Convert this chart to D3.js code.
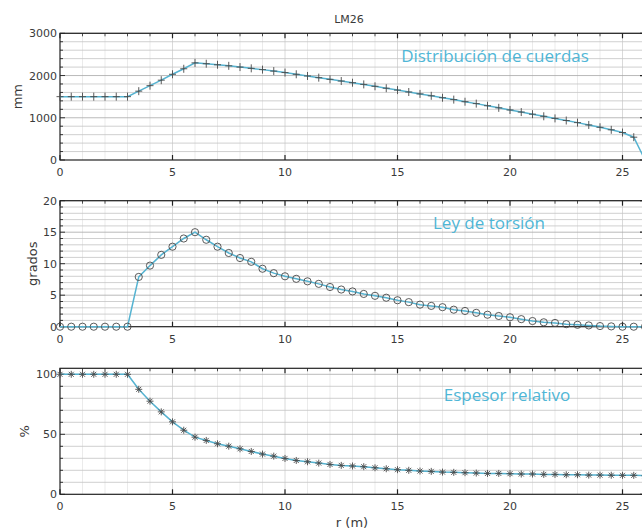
<!DOCTYPE html>
<html>
<head>
<meta charset="utf-8">
<script src="https://cdn.jsdelivr.net/npm/d3@7"></script>
<style>
  html, body { margin: 0; padding: 0; background: #fff; overflow: hidden; }
  svg { display: block; }
</style>
</head>
<body>
<svg id="chart" width="642" height="529"></svg>
<script>
// ---- data ----
const title = "LM26";
const xLabel = "r (m)";
const radius = d3.range(0, 26.01, 0.5); // 0, 0.5, ..., 26
const chord = [1500,1500,1500,1500,1500,1500,1500,
  1630,1760,1890,2030,2160,2300,
  2280,2255,2230,2200,2170,2140,2105,2070,
  2030,1990,1950,1910,1870,1830,1790,1745,1700,1655,
  1610,1565,1520,1475,1430,1380,1335,1285,1235,1185,
  1135,1085,1035,985,935,885,830,775,715,650,540,0];
const twist = [0,0,0,0,0,0,0,
  7.9,9.7,11.4,12.7,14.0,15.0,
  13.8,12.7,11.7,10.9,10.3,9.2,8.5,8.0,
  7.6,7.2,6.8,6.3,5.9,5.6,5.2,4.9,4.6,4.2,
  3.9,3.5,3.3,3.1,2.7,2.5,2.2,1.9,1.7,1.5,
  1.2,0.9,0.7,0.6,0.4,0.3,0.2,0.1,0.05,0,0,0];
const thickness = [100,100,100,100,100,100,100,
  87.5,77.6,68.7,60.4,53.4,47.6,
  44.9,42.1,40.1,37.9,35.7,33.5,31.8,29.9,
  28.2,27.1,26.0,24.9,24.1,23.6,23.0,22.1,21.3,20.5,
  20.0,19.4,19.1,18.5,18.3,18.0,17.7,17.4,17.4,17.2,
  16.9,16.9,16.6,16.6,16.3,16.3,16.0,16.0,15.9,15.8,15.8,15.5];
const xTicks = [0,5,10,15,20,25];
const chordTicks = [0,1000,2000,3000];
const twistTicks = [0,5,10,15,20];
const thickTicks = [0,50,100];
const panelNames = ["Distribución de cuerdas", "Ley de torsión", "Espesor relativo"];
const yLabels = ["mm", "grados", "%"];

// ---- layout ----
const svg = d3.select("#chart");
const x = d3.scaleLinear().domain([0, 26]).range([60, 645]);

const panels = [
  {values: chord, ticks: chordTicks, domain: [0, 3000], top: 33.3, bottom: 160, minor: 200, marker: "plus",
   name: panelNames[0], nameX: 495, nameY: 62, ylab: yLabels[0], ylabX: 17, tickBottomY: 176},
  {values: twist, ticks: twistTicks, domain: [0, 20], top: 200.7, bottom: 326.7, minor: 1, marker: "circle",
   name: panelNames[1], nameX: 489, nameY: 229, ylab: yLabels[1], ylabX: 32, tickBottomY: 343},
  {values: thickness, ticks: thickTicks, domain: [0, 105], top: 368.3, bottom: 494.3, minor: 10, marker: "star",
   name: panelNames[2], nameX: 507, nameY: 401, ylab: yLabels[2], ylabX: 24, tickBottomY: 510}
];

const lineColor = "#55b3d1";
const markColor = "#4a4a4a";

panels.forEach((p, pi) => {
  const y = d3.scaleLinear().domain(p.domain).range([p.bottom, p.top]);
  const g = svg.append("g");
  const x0 = x.range()[0], x1 = x.range()[1];

  // grid: vertical minor every 1 unit
  g.append("g").selectAll("line").data(d3.range(1, 26)).join("line")
    .attr("x1", d => x(d)).attr("x2", d => x(d))
    .attr("y1", p.top).attr("y2", p.bottom)
    .attr("stroke", d => d % 5 === 0 ? "#d0d0d0" : "#e6e6e6")
    .attr("stroke-width", 0.8);
  // horizontal minor grid
  const hvals = d3.range(p.domain[0] + p.minor, p.domain[1] + 1e-9, p.minor);
  g.append("g").selectAll("line").data(hvals).join("line")
    .attr("x1", x0).attr("x2", x1)
    .attr("y1", d => y(d)).attr("y2", d => y(d))
    .attr("stroke", (d) => p.ticks.includes(d) ? "#a8a8a8" : "#c4c4c4")
    .attr("stroke-width", 0.8);

  // axes box
  g.append("rect").attr("x", x0).attr("y", p.top)
    .attr("width", x1 - x0).attr("height", p.bottom - p.top)
    .attr("fill", "none").attr("stroke", "#222").attr("stroke-width", 1.2);

  // x ticks (bottom major inward, top major + minor inward)
  g.append("g").selectAll("line").data(xTicks).join("line")
    .attr("x1", d => x(d)).attr("x2", d => x(d))
    .attr("y1", p.bottom).attr("y2", p.bottom - 5)
    .attr("stroke", "#222").attr("stroke-width", 1.2);
  g.append("g").selectAll("line").data(d3.range(0, 27)).join("line")
    .attr("x1", d => x(d)).attr("x2", d => x(d))
    .attr("y1", p.top).attr("y2", d => p.top + (d % 5 === 0 ? 5 : 3))
    .attr("stroke", "#222").attr("stroke-width", d => d % 5 === 0 ? 1.2 : 0.8);
  // y ticks on left (major + minor) and right
  g.append("g").selectAll("line").data(d3.range(p.domain[0], p.domain[1] + 1e-9, p.minor)).join("line")
    .attr("x1", x0).attr("x2", d => x0 + (p.ticks.includes(d) ? 5 : 3))
    .attr("y1", d => y(d)).attr("y2", d => y(d))
    .attr("stroke", "#222").attr("stroke-width", 0.9);
  g.append("g").selectAll("line").data(p.ticks).join("line")
    .attr("x1", x1).attr("x2", x1 - 5)
    .attr("y1", d => y(d)).attr("y2", d => y(d))
    .attr("stroke", "#222").attr("stroke-width", 1.2);

  // tick labels
  g.append("g").selectAll("text").data(xTicks).join("text")
    .attr("x", d => x(d)).attr("y", p.tickBottomY)
    .attr("text-anchor", "middle")
    .attr("font-family", "DejaVu Sans").attr("font-size", 11).attr("fill", "#3a3a3a")
    .text(d => d);
  g.append("g").selectAll("text").data(p.ticks).join("text")
    .attr("x", x0 - 3).attr("y", d => y(d) + 4)
    .attr("text-anchor", "end")
    .attr("font-family", "DejaVu Sans").attr("font-size", 11).attr("fill", "#3a3a3a")
    .text(d => d);

  // y label
  g.append("text")
    .attr("transform", `translate(${p.ylabX},${(p.top + p.bottom) / 2}) rotate(-90)`)
    .attr("text-anchor", "middle").attr("dominant-baseline", "central")
    .attr("font-family", "DejaVu Sans").attr("font-size", 13).attr("fill", "#3a3a3a")
    .text(p.ylab);

  // panel name
  g.append("text")
    .attr("x", p.nameX).attr("y", p.nameY)
    .attr("text-anchor", "middle")
    .attr("font-family", "Open Sans").attr("font-size", 17).attr("fill", "#4fb6d6")
    .text(p.name);

  // data line
  const pts = radius.map((r, i) => [r, p.values[i]]);
  g.append("path").datum(pts)
    .attr("d", d3.line().x(d => x(d[0])).y(d => y(d[1])))
    .attr("fill", "none").attr("stroke", lineColor).attr("stroke-width", 1.5);

  // markers
  const mg = g.append("g").attr("stroke", markColor).attr("fill", "none").attr("stroke-width", 0.9);
  pts.forEach(d => {
    const cx = x(d[0]), cy = y(d[1]);
    if (p.marker === "plus") {
      mg.append("path").attr("d", `M${cx-3.5},${cy}H${cx+3.5}M${cx},${cy-4}V${cy+4}`);
    } else if (p.marker === "circle") {
      mg.append("circle").attr("cx", cx).attr("cy", cy).attr("r", 3.6);
    } else {
      const s = 3.5, t = 2.5;
      mg.append("path").attr("d",
        `M${cx-s},${cy}H${cx+s}M${cx},${cy-s}V${cy+s}M${cx-t},${cy-t}L${cx+t},${cy+t}M${cx-t},${cy+t}L${cx+t},${cy-t}`);
    }
  });
});

// title and x label
svg.append("text").attr("x", 349).attr("y", 23).attr("text-anchor", "middle")
  .attr("font-family", "DejaVu Sans").attr("font-size", 11).attr("fill", "#3a3a3a").text(title);
svg.append("text").attr("x", 352).attr("y", 527).attr("text-anchor", "middle")
  .attr("font-family", "DejaVu Sans").attr("font-size", 13).attr("fill", "#3a3a3a").text(xLabel);
</script>
</body>
</html>
